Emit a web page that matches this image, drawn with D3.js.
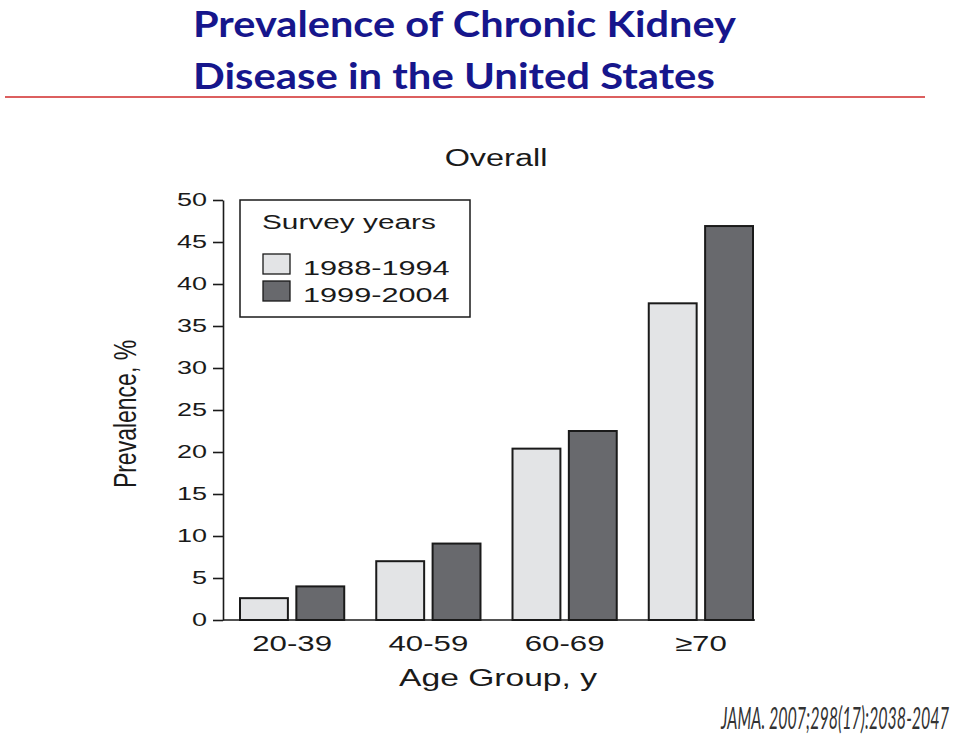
<!DOCTYPE html>
<html>
<head>
<meta charset="utf-8">
<script src="https://cdn.jsdelivr.net/npm/d3@7"></script>
<style>
  html, body { margin: 0; padding: 0; background: #ffffff; }
  svg { display: block; }
</style>
</head>
<body>
<script>
// ---- Data ----
const categories = ["20-39", "40-59", "60-69", "\u226570"];
const series = ["1988-1994", "1999-2004"];
const values1988 = [2.6, 7.0, 20.4, 37.7];
const values1999 = [4.0, 9.1, 22.5, 46.9];
const yTicks = [0, 5, 10, 15, 20, 25, 30, 35, 40, 45, 50];
const titleLines = ["Prevalence of Chronic Kidney", "Disease in the United States"];
const chartTitle = "Overall";
const yLabel = "Prevalence, %";
const xLabel = "Age Group, y";
const legendTitle = "Survey years";
const citation = "JAMA. 2007;298(17):2038-2047";

const seriesValues = [values1988, values1999];
const rows = categories.map((c, i) => ({ cat: c, vals: series.map((s, j) => ({ s, v: seriesValues[j][i] })) }));

const W = 960, H = 735;
const svg = d3.select("body").append("svg").attr("width", W).attr("height", H);

const chartFont = "'Liberation Sans', Arial, Helvetica, sans-serif";
const ink = "#1a1a1a";

// ---- Slide title ----
const titleW = [543, 522];
const titleY = [37, 89];
titleLines.forEach((t, i) => {
  const el = svg.append("text")
    .attr("x", 0).attr("y", 0)
    .style("font-family", "Lato, 'Open Sans', sans-serif")
    .style("font-weight", "bold")
    .style("font-size", "37px")
    .attr("fill", "#16168c")
    .text(t);
  const w = el.node().getComputedTextLength();
  el.attr("transform", `translate(193,${titleY[i]}) scale(${titleW[i] / w},1)`);
});

svg.append("line")
  .attr("x1", 5).attr("x2", 925).attr("y1", 97).attr("y2", 97)
  .attr("stroke", "#d02a2a").attr("stroke-width", 1.5);

// ---- Scales ----
const y = d3.scaleLinear().domain([0, 50]).range([620, 200]);
const x0 = d3.scaleBand().domain(categories).range([240, 753]).paddingInner(0.235).paddingOuter(0);
const x1 = d3.scaleBand().domain(series).range([0, x0.bandwidth()]).paddingInner(0.15);
const color = d3.scaleOrdinal().domain(series).range(["#e3e4e6", "#68696d"]);

// ---- Bars ----
const groups = svg.append("g").selectAll("g").data(rows).join("g")
  .attr("transform", d => `translate(${x0(d.cat)},0)`);
groups.selectAll("rect").data(d => d.vals).join("rect")
  .attr("x", d => x1(d.s))
  .attr("y", d => y(d.v))
  .attr("width", x1.bandwidth())
  .attr("height", d => y(0) - y(d.v))
  .attr("fill", d => color(d.s))
  .attr("stroke", ink)
  .attr("stroke-width", 2);

// ---- Y axis ----
const gy = svg.append("g").attr("transform", "translate(223,0)")
  .call(d3.axisLeft(y).tickValues(yTicks).tickSize(10).tickPadding(6).tickSizeOuter(0));
gy.select(".domain").attr("stroke", ink).attr("stroke-width", 1.6);
gy.selectAll(".tick line").attr("stroke", ink).attr("stroke-width", 1.6);
gy.selectAll(".tick text")
  .attr("x", 0)
  .attr("transform", "translate(-16,0) scale(1.5,1)")
  .attr("fill", ink)
  .style("font-family", chartFont)
  .style("font-size", "18px");

// ---- X axis ----
svg.append("line")
  .attr("x1", 223).attr("x2", x0.range()[1] + 2)
  .attr("y1", y(0)).attr("y2", y(0))
  .attr("stroke", ink).attr("stroke-width", 1.6);
const gx = svg.append("g").attr("transform", `translate(0,${y(0)})`)
  .call(d3.axisBottom(x0).tickSize(0).tickPadding(15));
gx.select(".domain").remove();
gx.selectAll(".tick text")
  .attr("y", 0)
  .attr("transform", "translate(0,15) scale(1.42,1)")
  .attr("fill", ink)
  .style("font-family", chartFont)
  .style("font-size", "22px");

// ---- Axis titles ----
svg.append("text")
  .attr("transform", "translate(498,686) scale(1.4,1)")
  .attr("text-anchor", "middle")
  .attr("fill", ink)
  .style("font-family", chartFont).style("font-size", "24px")
  .text(xLabel);

svg.append("text")
  .attr("transform", "translate(136,414) rotate(-90) scale(1,1.4)")
  .attr("text-anchor", "middle")
  .attr("fill", ink)
  .style("font-family", chartFont).style("font-size", "23px")
  .text(yLabel);

svg.append("text")
  .attr("transform", "translate(496,166) scale(1.41,1)")
  .attr("text-anchor", "middle")
  .attr("fill", ink)
  .style("font-family", chartFont).style("font-size", "23px")
  .text(chartTitle);

// ---- Legend ----
const lg = svg.append("g");
lg.append("rect")
  .attr("x", 240).attr("y", 200).attr("width", 230).attr("height", 117)
  .attr("fill", "#ffffff").attr("stroke", ink).attr("stroke-width", 1.5);
lg.append("text")
  .attr("transform", "translate(262,229) scale(1.42,1)")
  .attr("fill", ink)
  .style("font-family", chartFont).style("font-size", "21px")
  .text(legendTitle);
const swY = [254, 281];
const items = lg.selectAll("g.item").data(series).join("g").attr("class", "item");
items.append("rect")
  .attr("x", 263).attr("y", (d, i) => swY[i])
  .attr("width", 27).attr("height", 20)
  .attr("fill", d => color(d)).attr("stroke", ink).attr("stroke-width", 1.3);
items.append("text")
  .attr("transform", (d, i) => `translate(303,${swY[i] + 14}) scale(1.46,1)`)
  .attr("dy", "0.32em")
  .attr("fill", ink)
  .style("font-family", chartFont).style("font-size", "21px")
  .text(d => d);

// ---- Citation ----
const cit = svg.append("text")
  .attr("x", 0).attr("y", 0)
  .attr("fill", "#333333")
  .style("font-family", "Lato, 'Open Sans', sans-serif")
  .style("font-style", "italic")
  .style("font-size", "30px")
  .text(citation);
const cw = cit.node().getComputedTextLength();
cit.attr("transform", `translate(721,729) scale(${228 / cw},1)`);
</script>
</body>
</html>
